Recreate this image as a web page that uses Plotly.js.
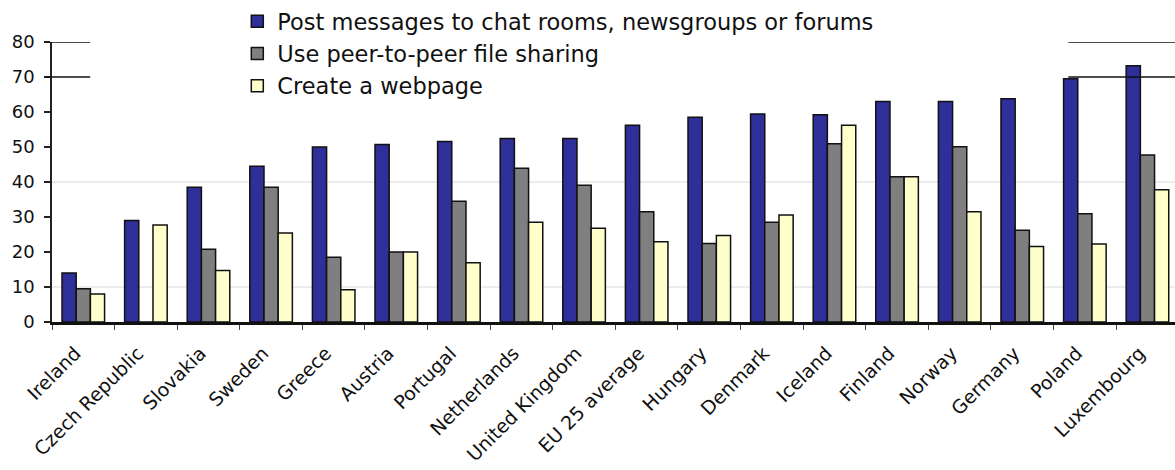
<!DOCTYPE html>
<html>
<head>
<meta charset="utf-8">
<script src="https://cdn.plot.ly/plotly-3.0.1.min.js"></script>
<style>html,body{margin:0;padding:0;background:#fff;}#chart{width:1175px;height:470px;}</style>
</head>
<body>
<div id="chart"></div>
<script>
const countries = ["Ireland","Czech Republic","Slovakia","Sweden","Greece","Austria","Portugal","Netherlands","United Kingdom","EU 25 average","Hungary","Denmark","Iceland","Finland","Norway","Germany","Poland","Luxembourg"];
const postMessages = [14, 29, 38.5, 44.5, 50, 50.7, 51.6, 52.4, 52.4, 56.2, 58.5, 59.4, 59.2, 63, 63, 63.8, 69.5, 73.2];
const peerToPeer = [9.5, 0, 20.8, 38.5, 18.5, 20, 34.5, 43.9, 39.1, 31.5, 22.4, 28.5, 50.9, 41.5, 50.1, 26.2, 30.9, 47.7];
const createWebpage = [8, 27.7, 14.7, 25.4, 9.2, 20, 16.9, 28.5, 26.8, 22.9, 24.7, 30.6, 56.2, 41.5, 31.5, 21.6, 22.3, 37.8];
const seriesNames = ["Post messages to chat rooms, newsgroups or forums","Use peer-to-peer file sharing","Create a webpage"];
const yTicks = [0,10,20,30,40,50,60,70,80];
const gridValues = [10, 40];
const markerValues = [70, 80];

const FONT = "DejaVu Sans, Arial, sans-serif";
const colors = ["#2f2f9a", "#7f7f7f", "#ffffcc"];
const seriesData = [postMessages, peerToPeer, createWebpage];

const traces = seriesData.map((vals, i) => ({
  type: "bar",
  name: seriesNames[i],
  x: countries,
  y: vals,
  marker: {color: colors[i], line: {color: "#111", width: 1.5}},
  hoverinfo: "x+y+name"
}));

const shapes = [];
gridValues.forEach(v => shapes.push({
  type: "line", xref: "paper", yref: "y", x0: 0, x1: 1, y0: v, y1: v,
  line: {color: "#dadada", width: 1}, layer: "below"
}));
markerValues.forEach(v => {
  shapes.push({type: "line", xref: "paper", yref: "y", x0: -0.006, x1: 0.034, y0: v, y1: v, line: {color: "#111", width: 1.5}});
  shapes.push({type: "line", xref: "paper", yref: "y", x0: 0.905, x1: 1, y0: v, y1: v, line: {color: "#111", width: 1.5}});
});

const layout = {
  width: 1175, height: 470,
  margin: {l: 52, r: 0, t: 42, b: 148},
  paper_bgcolor: "#ffffff", plot_bgcolor: "#ffffff",
  barmode: "group", bargap: 0.32, bargroupgap: 0,
  showlegend: true,
  legend: {
    x: 0.165, y: 1.15, xanchor: "left", yanchor: "top",
    font: {family: FONT, size: 22.5, color: "#111"},
    bgcolor: "rgba(0,0,0,0)", borderwidth: 0, tracegroupgap: 0,
    itemclick: false
  },
  xaxis: {
    type: "category",
    range: [-0.5, 17.44],
    showline: true, linecolor: "#111", linewidth: 2.5,
    ticks: "outside", tickson: "boundaries", ticklen: 5, tickcolor: "#444", tickwidth: 1,
    tickangle: -45,
    tickfont: {family: FONT, size: 19, color: "#111"},
    ticklabelstandoff: 10, ticklabelshift: -8,
    showgrid: false, zeroline: false, fixedrange: true
  },
  yaxis: {
    range: [0, 80],
    tickvals: yTicks,
    showline: true, linecolor: "#222", linewidth: 1.5,
    ticks: "outside", ticklen: 6, tickcolor: "#222", tickwidth: 1.5,
    tickfont: {family: FONT, size: 18, color: "#111"},
    ticklabelstandoff: 6,
    showgrid: false, zeroline: false, fixedrange: true
  },
  shapes: shapes
};

Plotly.newPlot("chart", traces, layout, {displayModeBar: false});
</script>
</body>
</html>
